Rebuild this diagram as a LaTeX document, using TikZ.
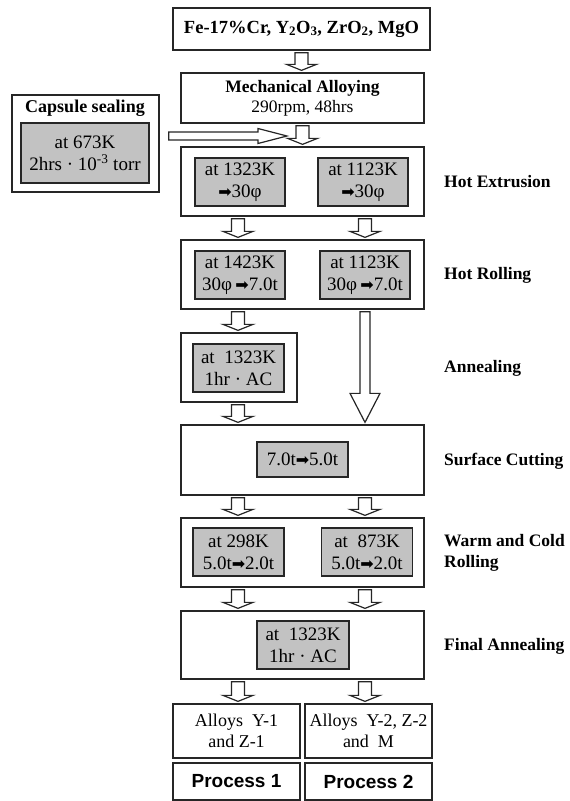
\documentclass[tikz,border=0pt]{standalone}
\usepackage{fontspec}
\setmainfont{Liberation Serif}
\newfontfamily\arialfam{Liberation Sans}
\newfontfamily\dejavufam{DejaVu Sans}
\usetikzlibrary{calc}
\newcommand\fsz{\fontsize{17.5pt}{20pt}\selectfont}
\newcommand\fin{\fontsize{19pt}{22pt}\selectfont}
\newcommand\rarr{{\dejavufam\fontsize{16pt}{16pt}\selectfont ➡}}
\tikzset{
  sz/.style 2 args={minimum width=#1pt, minimum height=#2pt},
  box/.style={draw=black!85, line width=1.3pt, inner sep=0pt, align=center, font=\fsz},
  inbox/.style={draw=black!85, fill=black!24, line width=1.6pt, inner sep=0pt, align=center, font=\fin},
  lab/.style={anchor=west, align=left, inner sep=0pt, font=\bfseries\fsz},
  procbox/.style={box, font=\arialfam\bfseries\fontsize{19pt}{21pt}\selectfont},
  vblock/.style n args={3}{draw=black!85, line width=1.2pt, fill=white, line join=miter,
    to path={let \p1=(\tikztostart), \p2=(\tikztotarget) in
      (\x1-#1,\y1-2pt) -- (\x1+#1,\y1-2pt) -- (\x1+#1,\y2+2pt+#3) -- (\x1+#2,\y2+2pt+#3)
      -- (\x1,\y2+2pt) -- (\x1-#2,\y2+2pt+#3) -- (\x1-#1,\y2+2pt+#3) -- cycle}},
  sarrow/.style={vblock={6.5pt}{15pt}{6pt}},
  bigarrow/.style={vblock={5pt}{15pt}{29pt}},
  harrow/.style={draw=black!85, line width=1.2pt, fill=white, line join=miter,
    to path={let \p1=(\tikztostart), \p2=(\tikztotarget) in
      (\x1,\y1+4pt) -- (\x2-29pt,\y1+4pt) -- (\x2-29pt,\y1+7.5pt) -- (\x2,\y1)
      -- (\x2-29pt,\y1-7.5pt) -- (\x2-29pt,\y1-4pt) -- (\x1,\y1-4pt) -- cycle}},
}
\begin{document}
\begin{tikzpicture}[x=1pt, y=-1pt]
\useasboundingbox (0,0) rectangle (570,801);
\coordinate (cL) at (238,0);
\coordinate (cR) at (365,0);

% top
\node[box, sz={257}{42}, font=\bfseries\fontsize{18.5pt}{20pt}\selectfont] (top) at (301.5,29)
  {Fe-17\%Cr, Y\textsubscript{2}O\textsubscript{3}, ZrO\textsubscript{2}, MgO};
\node[box, sz={243}{50}] (mech) at (302.5,98)
  {\textbf{Mechanical Alloying}\\290rpm, 48hrs};

% capsule
\node[box, sz={147}{97}] (cap) at (85.5,143.5) {};
\node[inner sep=0pt, font=\bfseries\fontsize{18pt}{20pt}\selectfont] (captitle) at (85,108) {Capsule sealing};
\node[inbox, sz={128}{60}] (capin) at (85,153) {at 673K\\2hrs · 10\textsuperscript{-3} torr};

% hot extrusion
\node[box, sz={243}{69}] (he) at (302.5,181.5) {};
\node[inbox, sz={90}{48}] (heL) at (240,182) {at 1323K\\\rarr30φ};
\node[inbox, sz={90}{48}] (heR) at (363,182) {at 1123K\\\rarr30φ};
\node[lab] (lhe) at (444,182) {Hot Extrusion};

% hot rolling
\node[box, sz={243}{69}] (hr) at (302.5,274.5) {};
\node[inbox, sz={90}{48}] (hrL) at (240,275) {at 1423K\\30φ\,\rarr7.0t};
\node[inbox, sz={90}{48}] (hrR) at (365,275) {at 1123K\\30φ\,\rarr7.0t};
\node[lab] (lhr) at (444,275) {Hot Rolling};

% annealing
\node[box, sz={116}{69}] (ann) at (239,367.5) {};
\node[inbox, sz={91}{48}] (annin) at (238.5,368) {at~~1323K\\1hr · AC};
\node[lab] (lann) at (444,368) {Annealing};

% surface cutting
\node[box, sz={243}{70}] (sc) at (302.5,460) {};
\node[inbox, sz={91}{35}] (scin) at (302.5,459.5) {7.0t\rarr5.0t};
\node[lab] (lsc) at (444,461) {Surface Cutting};

% warm and cold rolling
\node[box, sz={243}{69}] (wc) at (302.5,552.5) {};
\node[inbox, sz={91}{48}] (wcL) at (238.5,552) {at 298K\\5.0t\rarr2.0t};
\node[inbox, sz={91}{48}] (wcR) at (367,552) {at~~873K\\5.0t\rarr2.0t};
\node[lab, font=\bfseries\fontsize{17.5pt}{21pt}\selectfont] (lwc) at (444,552.5) {Warm and Cold\\Rolling};

% final annealing
\node[box, sz={243}{68}] (fa) at (302.5,645) {};
\node[inbox, sz={92}{48}] (fain) at (303,645) {at~~1323K\\1hr · AC};
\node[lab] (lfa) at (444,646) {Final Annealing};

% alloys and processes
\node[box, sz={127}{54}, font=\fontsize{18pt}{21pt}\selectfont] (al1) at (236.5,731) {Alloys~~Y-1\\and Z-1};
\node[box, sz={127}{54}, font=\fontsize{18pt}{21pt}\selectfont] (al2) at (368.5,731) {Alloys~~Y-2, Z-2\\and~~M};
\node[procbox, sz={127}{37}] (p1) at (236.5,781.5) {Process 1};
\node[procbox, sz={127}{37}] (p2) at (368.5,781.5) {Process 2};

% arrows
\draw[sarrow] (top.south) to (mech.north);
\draw[sarrow] (mech.south) to (he.north);
\coordinate (hstart) at ([xshift=9pt,yshift=7.5pt]cap.east);
\coordinate (htip) at (287,136);
\draw[harrow] (hstart) to (htip);
\draw[sarrow] (he.south -| cL) to (hr.north -| cL);
\draw[sarrow] (he.south -| cR) to (hr.north -| cR);
\draw[sarrow] (hr.south -| cL) to (ann.north -| cL);
\draw[bigarrow] (hr.south -| cR) to (sc.north -| cR);
\draw[sarrow] (ann.south -| cL) to (sc.north -| cL);
\draw[sarrow] (sc.south -| cL) to (wc.north -| cL);
\draw[sarrow] (sc.south -| cR) to (wc.north -| cR);
\draw[sarrow] (wc.south -| cL) to (fa.north -| cL);
\draw[sarrow] (wc.south -| cR) to (fa.north -| cR);
\draw[sarrow] (fa.south -| cL) to (al1.north -| cL);
\draw[sarrow] (fa.south -| cR) to (al2.north -| cR);
\end{tikzpicture}
\end{document}
